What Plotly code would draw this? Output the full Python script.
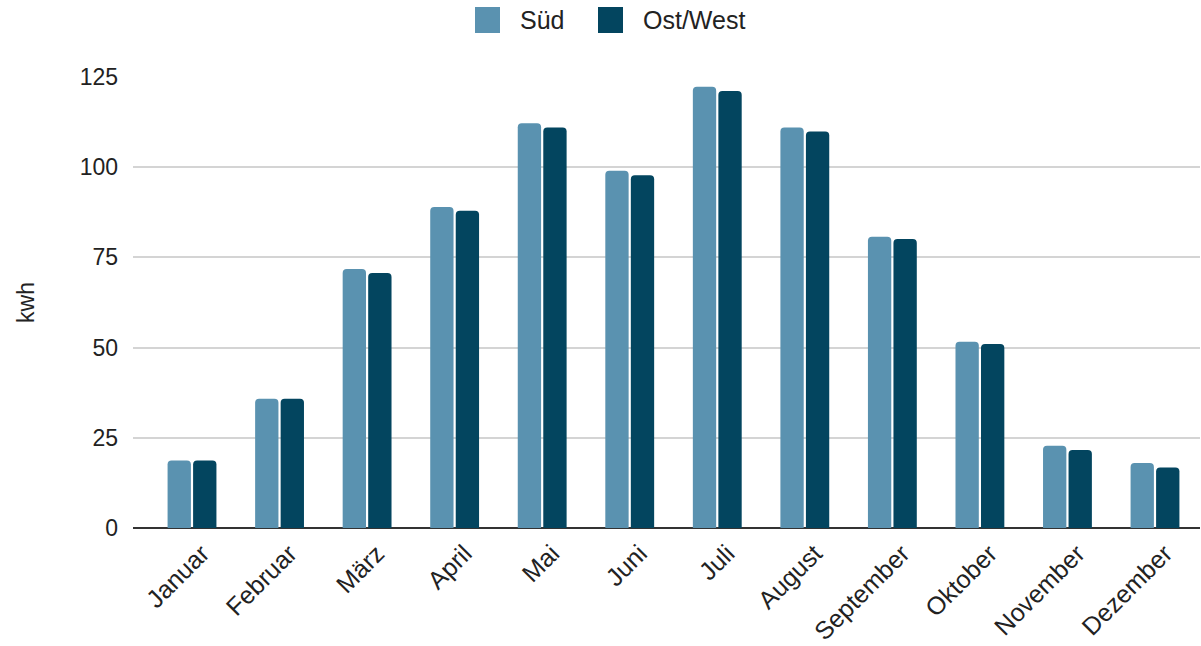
import plotly.graph_objects as go

months = ["Januar", "Februar", "März", "April", "Mai", "Juni", "Juli",
          "August", "September", "Oktober", "November", "Dezember"]
sued = [18.7, 35.8, 71.8, 89.0, 112.2, 99.0, 122.3, 111.0, 80.7, 51.6, 22.8, 18.0]
ost_west = [18.7, 35.8, 70.7, 87.9, 111.0, 97.8, 121.1, 109.9, 80.1, 51.0, 21.6, 16.8]
series_names = ["Süd", "Ost/West"]
y_ticks = [0, 25, 50, 75, 100, 125]

C_SUED = "#5A92B0"
C_OST = "#03455F"
FONT = "Liberation Sans, Arial, sans-serif"

fig = go.Figure()
fig.add_trace(go.Bar(x=months, y=sued, name=series_names[0],
                     marker=dict(color=C_SUED, line=dict(width=0)), showlegend=False))
fig.add_trace(go.Bar(x=months, y=ost_west, name=series_names[1],
                     marker=dict(color=C_OST, line=dict(width=0)), showlegend=False))

W, H = 1201, 646
L, R, T, B = 133, 1, 77, 118
pw, ph = W - L - R, H - T - B

def px(x):
    return (x - L) / pw

def py(y):
    return (H - B - y) / ph

# legend drawn manually (large square swatches)
shapes = []
annotations = []
for name, col, x0, tx in [(series_names[0], C_SUED, 475, 518), (series_names[1], C_OST, 598, 641)]:
    shapes.append(dict(type="rect", xref="paper", yref="paper",
                       x0=px(x0), x1=px(x0 + 25), y0=py(33), y1=py(7),
                       fillcolor=col, line=dict(width=0)))
    annotations.append(dict(text=name, xref="paper", yref="paper", x=px(tx), y=py(20),
                            xanchor="left", yanchor="middle", showarrow=False,
                            font=dict(size=25, color="#222", family=FONT)))

fig.update_layout(
    width=W, height=H,
    margin=dict(l=L, r=R, t=T, b=B, autoexpand=False),
    paper_bgcolor="white", plot_bgcolor="white",
    barmode="group", bargap=0.417, bargroupgap=0.086, barcornerradius=4,
    font=dict(family=FONT, size=22, color="#222"),
    shapes=shapes, annotations=annotations,
    showlegend=False,
)
fig.update_xaxes(range=[-0.674, 11.514], tickangle=-45, showgrid=False,
                 showline=False, ticks="", ticklabelstandoff=5, ticklabelshift=10,
                 tickfont=dict(size=25, color="#222"), automargin=False)
fig.update_yaxes(range=[0, 125], tickvals=y_ticks, showgrid=True, gridcolor="#d4d4d4",
                 gridwidth=2, zeroline=True, zerolinecolor="#333", zerolinewidth=2,
                 ticks="", ticklabelstandoff=14, tickfont=dict(size=23, color="#222"),
                 title=dict(text="kwh", font=dict(size=23, color="#222"), standoff=38),
                 automargin=False)

fig.write_html("out.html")
